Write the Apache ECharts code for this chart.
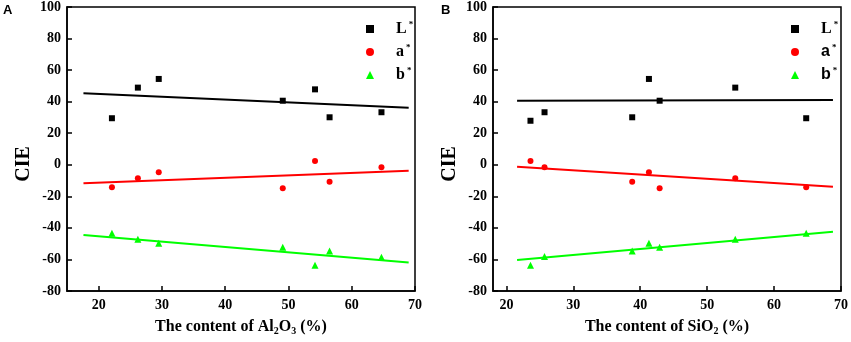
<!DOCTYPE html>
<html>
<head>
<meta charset="utf-8">
<script src="https://cdn.jsdelivr.net/npm/echarts@6/dist/echarts.min.js"></script>
<style>
  html, body { margin: 0; padding: 0; background: #fff; }
  #main { width: 851px; height: 342px; }
</style>
</head>
<body>
<div id="main"></div>
<script>
// panel A: Al2O3 content
var alX = [22.1, 26.2, 29.5, 49.1, 54.2, 56.5, 64.7]
var alL = [29.5, 48.9, 54.4, 40.6, 47.8, 30.1, 33.3]
var alA = [-14.3, -8.6, -4.8, -14.9, 2.4, -10.7, -1.6]
var alB = [-43.4, -47.2, -49.7, -52.3, -63.7, -54.6, -58.6]
// fitted lines, end points
var alFitX = [17.6, 69.0]
var alFitL = [45.3, 36.2]
var alFitA = [-11.7, -3.8]
var alFitB = [-44.5, -62.0]

// panel B: SiO2 content
var siX = [23.6, 25.7, 38.8, 41.3, 42.9, 54.2, 64.8]
var siL = [27.9, 33.3, 30.1, 54.4, 40.6, 48.9, 29.5]
var siA = [2.4, -1.6, -10.7, -4.8, -14.9, -8.6, -14.3]
var siB = [-63.7, -58.2, -54.6, -49.7, -52.3, -47.2, -43.4]
var siFitX = [21.6, 68.8]
var siFitL = [40.6, 41.0]
var siFitA = [-1.2, -13.9]
var siFitB = [-60.3, -42.4]

var xTicks = [20, 30, 40, 50, 60, 70]
var seriesNames = ['L*', 'a*', 'b*']

var serif = '"Liberation Serif", "Times New Roman", serif'
var sans = '"Liberation Sans", Arial, sans-serif'

function pairs(xs, ys) {
  return xs.map(function (x, i) { return [x, ys[i]] })
}

function xAxisFor(idx, min, nameRich) {
  return {
    gridIndex: idx,
    type: 'value',
    min: min,
    max: 70,
    name: nameRich,
    nameLocation: 'middle',
    nameGap: 25,
    nameTextStyle: {
      fontFamily: serif,
      fontWeight: 'bold',
      fontSize: 16,
      color: '#000',
      lineHeight: 20,
      rich: {
        sub: { fontFamily: serif, fontWeight: 'bold', fontSize: 10, color: '#000', verticalAlign: 'bottom', lineHeight: 20, padding: [6, 0, 0, 0] }
      }
    },
    axisLine: { show: true, onZero: false, lineStyle: { color: '#000', width: 1.5 } },
    axisTick: { show: true, inside: true, length: 5, customValues: xTicks, lineStyle: { color: '#000', width: 1.5 } },
    axisLabel: { customValues: xTicks, margin: 7, fontFamily: serif, fontWeight: 'bold', fontSize: 14, color: '#000' },
    splitLine: { show: false }
  }
}

function yAxisFor(idx) {
  return {
    gridIndex: idx,
    type: 'value',
    min: -80,
    max: 100,
    interval: 20,
    axisLine: { show: true, onZero: false, lineStyle: { color: '#000', width: 1.5 } },
    axisTick: { show: true, inside: true, length: 5, lineStyle: { color: '#000', width: 1.5 } },
    axisLabel: { margin: 6, fontFamily: serif, fontWeight: 'bold', fontSize: 14, color: '#000' },
    splitLine: { show: false }
  }
}

function scatter(name, idx, data, symbol, size, color) {
  return {
    name: name,
    type: 'scatter',
    xAxisIndex: idx,
    yAxisIndex: idx,
    data: data,
    symbol: symbol,
    symbolSize: size,
    itemStyle: { color: color, opacity: 1 },
    z: 3
  }
}

function fit(idx, xs, ys, color) {
  return {
    name: 'fit',
    type: 'line',
    xAxisIndex: idx,
    yAxisIndex: idx,
    data: pairs(xs, ys),
    showSymbol: false,
    symbol: 'none',
    lineStyle: { color: color, width: 2 },
    silent: true,
    z: 2
  }
}

function legendFor(left, sansAB) {
  return {
    orient: 'vertical',
    left: left,
    top: 15,
    itemWidth: 8,
    itemHeight: 8,
    itemGap: 6,
    data: seriesNames,
    itemStyle: { opacity: 1 },
    formatter: function (name) {
      var base = name.charAt(0)
      var tag = (sansAB && base !== 'L') ? 'ns' : 'n'
      return '{' + tag + '|' + base + '}{s|*}'
    },
    textStyle: {
      rich: {
        n: { fontFamily: serif, fontWeight: 'bold', fontSize: 16, color: '#000', lineHeight: 18, padding: [0, 0, 0, 17] },
        ns: { fontFamily: sans, fontWeight: 'bold', fontSize: 16, color: '#000', lineHeight: 18, padding: [0, 0, 0, 17] },
        s: { fontFamily: serif, fontWeight: 'bold', fontSize: 9, color: '#000', verticalAlign: 'top', lineHeight: 18, padding: [0, 0, 0, 2] }
      }
    }
  }
}

var chart = echarts.init(document.getElementById('main'), null, { renderer: 'canvas' })

chart.setOption({
  animation: false,
  backgroundColor: '#fff',
  grid: [
    { left: 67, top: 7, width: 348, height: 284, show: true, borderColor: '#000', borderWidth: 1.5, backgroundColor: 'transparent' },
    { left: 493, top: 7, width: 349, height: 284, show: true, borderColor: '#000', borderWidth: 1.5, backgroundColor: 'transparent' }
  ],
  xAxis: [
    xAxisFor(0, 15, 'The content of Al{sub|2}O{sub|3} (%)'),
    xAxisFor(1, 18, 'The content of SiO{sub|2} (%)')
  ],
  yAxis: [yAxisFor(0), yAxisFor(1)],
  legend: [legendFor(361, false), legendFor(786, true)],
  graphic: [
    { type: 'text', left: 3, top: 4, style: { text: 'A', font: 'bold 13px ' + sans, fill: '#000' } },
    { type: 'text', left: 441, top: 4, style: { text: 'B', font: 'bold 13px ' + sans, fill: '#000' } },
    { type: 'text', x: 24, y: 164, rotation: Math.PI / 2, style: { text: 'CIE', font: 'bold 20px ' + serif, fill: '#000', align: 'center', verticalAlign: 'middle' } },
    { type: 'text', x: 450, y: 164, rotation: Math.PI / 2, style: { text: 'CIE', font: 'bold 20px ' + serif, fill: '#000', align: 'center', verticalAlign: 'middle' } }
  ],
  series: [
    fit(0, alFitX, alFitL, '#000000'),
    fit(0, alFitX, alFitA, '#ff0000'),
    fit(0, alFitX, alFitB, '#00ff00'),
    scatter('L*', 0, pairs(alX, alL), 'rect', 6, '#000000'),
    scatter('a*', 0, pairs(alX, alA), 'circle', 6, '#ff0000'),
    scatter('b*', 0, pairs(alX, alB), 'triangle', 7, '#00ff00'),
    fit(1, siFitX, siFitL, '#000000'),
    fit(1, siFitX, siFitA, '#ff0000'),
    fit(1, siFitX, siFitB, '#00ff00'),
    scatter('L*', 1, pairs(siX, siL), 'rect', 6, '#000000'),
    scatter('a*', 1, pairs(siX, siA), 'circle', 6, '#ff0000'),
    scatter('b*', 1, pairs(siX, siB), 'triangle', 7, '#00ff00')
  ]
})
</script>
</body>
</html>
